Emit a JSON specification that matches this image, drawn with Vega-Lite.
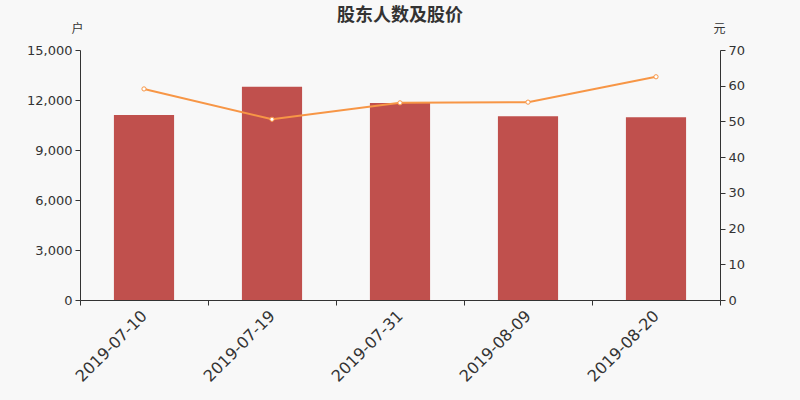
{
  "$schema": "https://vega.github.io/schema/vega-lite/v6.json",
  "width": 640,
  "height": 250,
  "autosize": {"type": "none"},
  "padding": {"left": 80, "top": 50, "right": 80, "bottom": 100},
  "background": "#f8f8f8",
  "title": {
    "text": "股东人数及股价",
    "fontSize": 18,
    "fontWeight": "bold",
    "color": "#333333",
    "font": "Noto Sans CJK SC",
    "offset": -3,
    "anchor": "middle"
  },
  "config": {
    "view": {"stroke": null},
    "font": "DejaVu Sans",
    "axis": {
      "domainColor": "#333333",
      "tickColor": "#333333",
      "labelColor": "#333333",
      "titleColor": "#333333",
      "grid": false
    }
  },
  "data": {
    "values": [
      {"date": "2019-07-10", "holders": 11100, "price": 59.1},
      {"date": "2019-07-19", "holders": 12800, "price": 50.6},
      {"date": "2019-07-31", "holders": 11820, "price": 55.2},
      {"date": "2019-08-09", "holders": 11020, "price": 55.4},
      {"date": "2019-08-20", "holders": 10960, "price": 62.5}
    ]
  },
  "encoding": {
    "x": {
      "field": "date",
      "type": "ordinal",
      "scale": {"paddingInner": 0, "paddingOuter": 0},
      "axis": {
        "title": null,
        "labelAngle": -45,
        "labelFontSize": 16,
        "labelAlign": "right",
        "labelBaseline": "middle",
        "labelPadding": 8,
        "tickBand": "extent",
        "tickSize": 5
      }
    }
  },
  "layer": [
    {
      "mark": {"type": "bar", "color": "#c0504d", "width": {"band": 0.47}},
      "encoding": {
        "y": {
          "field": "holders",
          "type": "quantitative",
          "scale": {"domain": [0, 15000]},
          "axis": {
            "title": "户",
            "titleAngle": 0,
            "titleX": -3,
            "titleY": -22,
            "titleAlign": "center",
            "titleBaseline": "middle",
            "titleFont": "Noto Sans CJK SC",
            "titleFontSize": 12,
            "titleFontWeight": "normal",
            "values": [0, 3000, 6000, 9000, 12000, 15000],
            "format": ",d",
            "labelFontSize": 13,
            "tickSize": 5,
            "labelPadding": 3
          }
        }
      }
    },
    {
      "mark": {
        "type": "line",
        "color": "#f79646",
        "strokeWidth": 2,
        "point": {"filled": true, "fill": "#ffffff", "stroke": "#f79646", "strokeWidth": 1, "size": 18}
      },
      "encoding": {
        "y": {
          "field": "price",
          "type": "quantitative",
          "scale": {"domain": [0, 70]},
          "axis": {
            "orient": "right",
            "title": "元",
            "titleAngle": 0,
            "titleX": -1,
            "titleY": -22,
            "titleAlign": "center",
            "titleBaseline": "middle",
            "titleFont": "Noto Sans CJK SC",
            "titleFontSize": 12,
            "titleFontWeight": "normal",
            "values": [0, 10, 20, 30, 40, 50, 60, 70],
            "labelFontSize": 13,
            "tickSize": 5,
            "labelPadding": 3
          }
        }
      }
    }
  ],
  "resolve": {"scale": {"y": "independent"}}
}
